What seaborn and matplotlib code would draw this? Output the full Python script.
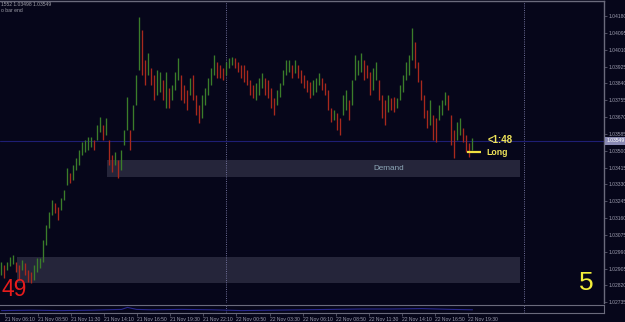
import numpy as np
import pandas as pd
import matplotlib
matplotlib.use("Agg")
import matplotlib.pyplot as plt
import matplotlib.transforms as mtransforms
import seaborn as sns

# ---------------- data (15-min-ish bars) ----------------
highs = [
    1.02938, 1.02923, 1.02938, 1.02963, 1.02973, 1.02938, 1.02923, 1.02948, 1.02933, 1.02897,
    1.02887, 1.02923, 1.02958, 1.02958, 1.03049, 1.03125, 1.03190, 1.03251, 1.03236, 1.03216,
    1.03261, 1.03302, 1.03413, 1.03387, 1.03428, 1.03463, 1.03503, 1.03544, 1.03554, 1.03569,
    1.03569, 1.03554, 1.03630, 1.03670, 1.03630, 1.03665, 1.03554, 1.03478, 1.03493, 1.03453,
    1.03503, 1.03604, 1.03771, 1.03604, 1.03731, 1.03882, 1.04175, 1.04110, 1.03958, 1.03993,
    1.03917, 1.03882, 1.03907, 1.03897, 1.03857, 1.03897, 1.03817, 1.03832, 1.03897, 1.03968,
    1.03882, 1.03832, 1.03806, 1.03867, 1.03882, 1.03781, 1.03731, 1.03781, 1.03817, 1.03867,
    1.03917, 1.03983, 1.03948, 1.03933, 1.03917, 1.03948, 1.03968, 1.03973, 1.03968, 1.03948,
    1.03933, 1.03933, 1.03907, 1.03857, 1.03832, 1.03842, 1.03867, 1.03892, 1.03867, 1.03857,
    1.03817, 1.03766, 1.03806, 1.03842, 1.03907, 1.03958, 1.03958, 1.03933, 1.03958, 1.03933,
    1.03907, 1.03882, 1.03857, 1.03847, 1.03857, 1.03867, 1.03892, 1.03867, 1.03842, 1.03806,
    1.03716, 1.03706, 1.03690, 1.03665, 1.03781, 1.03806, 1.03756, 1.03857, 1.03983, 1.03958,
    1.03993, 1.03958, 1.03933, 1.03897, 1.03917, 1.03948, 1.03857, 1.03781, 1.03756, 1.03781,
    1.03766, 1.03771, 1.03766, 1.03832, 1.03882, 1.03948, 1.03983, 1.04120, 1.04049, 1.03948,
    1.03857, 1.03781, 1.03706, 1.03756, 1.03680, 1.03665, 1.03731, 1.03756, 1.03796, 1.03781,
    1.03680, 1.03604, 1.03645, 1.03665, 1.03615, 1.03579, 1.03539, 1.03564,
]
lows = [
    1.02872, 1.02857, 1.02897, 1.02918, 1.02928, 1.02887, 1.02847, 1.02897, 1.02872, 1.02837,
    1.02832, 1.02847, 1.02887, 1.02908, 1.02938, 1.03024, 1.03110, 1.03175, 1.03185, 1.03150,
    1.03200, 1.03251, 1.03327, 1.03337, 1.03352, 1.03402, 1.03428, 1.03478, 1.03493, 1.03503,
    1.03519, 1.03503, 1.03554, 1.03594, 1.03554, 1.03579, 1.03428, 1.03392, 1.03428, 1.03362,
    1.03402, 1.03529, 1.03604, 1.03503, 1.03604, 1.03731, 1.03907, 1.03882, 1.03832, 1.03882,
    1.03832, 1.03756, 1.03781, 1.03796, 1.03756, 1.03716, 1.03716, 1.03756, 1.03806, 1.03857,
    1.03756, 1.03741, 1.03706, 1.03781, 1.03756, 1.03680, 1.03640, 1.03665, 1.03731, 1.03781,
    1.03832, 1.03882, 1.03867, 1.03867, 1.03857, 1.03882, 1.03917, 1.03933, 1.03917, 1.03897,
    1.03867, 1.03847, 1.03832, 1.03781, 1.03766, 1.03756, 1.03781, 1.03817, 1.03781, 1.03766,
    1.03716, 1.03680, 1.03731, 1.03771, 1.03832, 1.03882, 1.03897, 1.03867, 1.03892, 1.03867,
    1.03842, 1.03817, 1.03796, 1.03766, 1.03781, 1.03796, 1.03832, 1.03806, 1.03781, 1.03706,
    1.03645, 1.03655, 1.03604, 1.03579, 1.03680, 1.03706, 1.03655, 1.03731, 1.03857, 1.03882,
    1.03897, 1.03857, 1.03867, 1.03781, 1.03806, 1.03857, 1.03756, 1.03665, 1.03630, 1.03695,
    1.03706, 1.03695, 1.03716, 1.03756, 1.03796, 1.03857, 1.03882, 1.03958, 1.03917, 1.03847,
    1.03756, 1.03665, 1.03615, 1.03630, 1.03554, 1.03544, 1.03655, 1.03680, 1.03731, 1.03706,
    1.03529, 1.03463, 1.03554, 1.03579, 1.03544, 1.03493, 1.03468, 1.03503,
]
price_ticks = [1.04180, 1.04095, 1.04010, 1.03925, 1.03840, 1.03755, 1.03670, 1.03585,
               1.03500, 1.03415, 1.03330, 1.03245, 1.03160, 1.03075, 1.02990, 1.02905,
               1.02820, 1.02735]
time_labels = ["21 Nov 06:10", "21 Nov 08:50", "21 Nov 11:30", "21 Nov 14:10",
               "21 Nov 16:50", "21 Nov 19:30", "21 Nov 22:10", "22 Nov 00:50",
               "22 Nov 03:30", "22 Nov 06:10", "22 Nov 08:50", "22 Nov 11:30",
               "22 Nov 14:10", "22 Nov 16:50", "22 Nov 19:30"]
day_separators = ["23 Nov 00:00", "22 Nov 00:00"]
current_price = 1.03549
long_level = 1.03493
demand_zone = (1.03367, 1.03453)
lower_zone = (1.02832, 1.02963)
osc_bars = [0, 10, 20, 30, 40, 42, 45, 50, 60, 70, 80, 90, 100, 110, 120, 130, 140, 150, 157]
osc_vals = [0.30, 0.35, 0.30, 0.35, 0.45, 0.70, 0.45, 0.40, 0.45, 0.40, 0.30, 0.35, 0.40,
            0.45, 0.50, 0.50, 0.55, 0.45, 0.40]

# ---------------- style ----------------
BG = "#06061a"
GRID = "#6a6a7c"
TXT = "#9c9cae"
sns.set_style("dark", {"axes.facecolor": BG, "figure.facecolor": BG})
plt.rcParams["font.family"] = ["Liberation Sans", "DejaVu Sans"]

W, H = 625, 322
fig = plt.figure(figsize=(W / 100, H / 100), dpi=100)
fig.patch.set_facecolor(BG)


def rect(x0, y0, x1, y1):
    return [x0 / W, 1 - y1 / H, (x1 - x0) / W, (y1 - y0) / H]


ax = fig.add_axes(rect(0, 0.5, 604, 303))
sub = fig.add_axes(rect(0, 305, 604, 313), sharex=ax)
for a in (ax, sub):
    a.set_facecolor(BG)
    a.grid(False)

BAR_PX = 3.0
PX_PER_MIN = 33.07 / 160.0


def t2x(label):
    d, _, hm = label.split()
    hh, mm = map(int, hm.split(":"))
    minutes = (int(d) - 21) * 1440 + hh * 60 + mm - (6 * 60 + 10)
    px = 5 + minutes * PX_PER_MIN
    return px / BAR_PX - 0.5


def px2x(px):
    return px / BAR_PX - 0.5


df = pd.DataFrame({"high": highs, "low": lows})
df["bar"] = np.arange(len(df))
df["mid"] = (df["high"] + df["low"]) / 2
df["up"] = df["mid"].diff().fillna(1) >= 0

# zones
ZONE = "#25253a"
ax.fill_between([px2x(107), px2x(520)], demand_zone[0], demand_zone[1], color=ZONE, lw=0, zorder=1)
ax.fill_between([px2x(17), px2x(520)], lower_zone[0], lower_zone[1], color=ZONE, lw=0, zorder=1)

# separators
for s in day_separators:
    ax.axvline(t2x(s), color="#7c7ca8", lw=0.6, ls=(0, (1.2, 1.5)), zorder=2)
    sub.axvline(t2x(s), color="#7c7ca8", lw=0.6, ls=(0, (1.2, 1.5)), zorder=2)

# current price line
ax.axhline(current_price, color="#1e1e74", lw=0.8, zorder=2)

# candles
up = df[df["up"]]
dn = df[~df["up"]]
ax.vlines(up["bar"], up["low"], up["high"], color="#3b7d2a", lw=0.95, zorder=3)
ax.vlines(dn["bar"], dn["low"], dn["high"], color="#a8291d", lw=0.95, zorder=3)

ax.set_xlim(-0.5, 604 / BAR_PX - 0.5)
ax.set_ylim(1.04261 - 0.0000505 * 303, 1.04261 - 0.0000505 * 0.5)

# labels on zones / markers
ax.text(px2x(389), sum(demand_zone) / 2, "Demand", ha="center", va="center",
        fontsize=5.9, color="#8ea8b8", zorder=4)
ax.hlines(long_level, px2x(467), px2x(481), color="#f0e040", lw=1.6, zorder=5)
ax.text(px2x(486), long_level, "Long", ha="left", va="center", fontsize=6.3,
        fontweight="bold", color="#f0e45a", zorder=5)
ax.text(px2x(488), 1.03556, "<1:48", ha="left", va="center", fontsize=7,
        fontweight="bold", color="#f0e45a", zorder=5)

# right price axis
ax.yaxis.tick_right()
ax.set_yticks(price_ticks)
ax.set_yticklabels([f"{v:.5f}" for v in price_ticks])
ax.tick_params(axis="y", colors=GRID, labelcolor=TXT, labelsize=3.6, length=2,
               width=0.5, pad=1, right=True, left=False)
ax.tick_params(axis="x", bottom=False, labelbottom=False)
for side in ("left", "bottom"):
    ax.spines[side].set_visible(False)
for side in ("top", "right"):
    ax.spines[side].set_visible(True)
    ax.spines[side].set_color(GRID)
    ax.spines[side].set_linewidth(1.0)

trans = mtransforms.blended_transform_factory(ax.transAxes, ax.transData)
ax.text(1.004, current_price, "1.03549", transform=trans, ha="left", va="center",
        fontsize=3.6, color="#ffffff",
        bbox=dict(boxstyle="square,pad=0.25", fc="#8a8ab4", ec="none"), zorder=6)

# sub window
sns.lineplot(x=osc_bars, y=osc_vals, ax=sub, color="#2a2a90", lw=0.8)
sub.set_ylim(0, 1)
sub.set_yticks([])
sub.set_ylabel("")
sub.set_xticks([t2x(lbl) for lbl in time_labels])
sub.set_xticklabels(time_labels, ha="left")
sub.tick_params(axis="x", colors=GRID, labelcolor=TXT, labelsize=3.6, length=2,
                width=0.5, pad=1, bottom=True)
for side in ("left", "bottom", "top", "right"):
    sub.spines[side].set_visible(True)
    sub.spines[side].set_color(GRID)
    sub.spines[side].set_linewidth(0.8)
sub.spines["left"].set_visible(False)

# header / overlay texts
fig.text(1 / W, 1 - 5 / H, "1552 1.03498 1.03549", fontsize=3.6, color="#a0a0aa",
         ha="left", va="center")
fig.text(1 / W, 1 - 10.5 / H, "o bar end", fontsize=3.6, color="#a0a0aa",
         ha="left", va="center")
fig.text(2 / W, 1 - 290 / H, "49", fontsize=16.5, color="#e61c1c", ha="left", va="center")
fig.text(579 / W, 1 - 283 / H, "5", fontsize=19, color="#f4ee3a", ha="left", va="center")

fig.savefig("out.png", dpi=100, facecolor=BG)
